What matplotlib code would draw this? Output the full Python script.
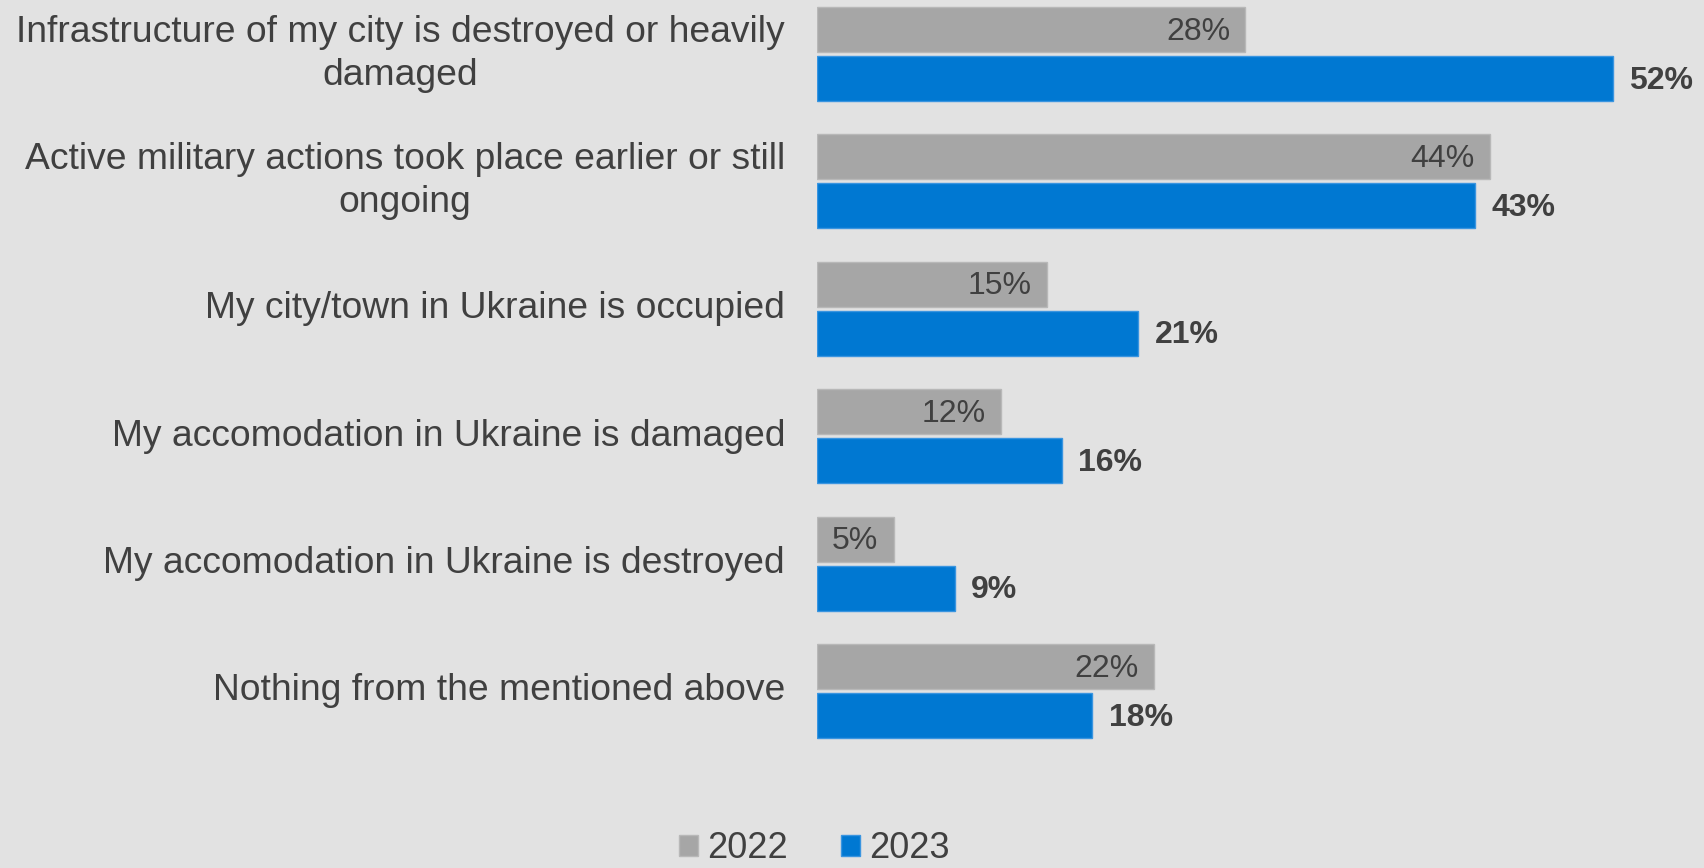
import matplotlib.pyplot as plt
import numpy as np

# data
categories = ['Infrastructure of my city is destroyed or heavily\ndamaged',
              'Active military actions took place earlier or still\nongoing',
              'My city/town in Ukraine is occupied',
              'My accomodation in Ukraine is damaged',
              'My accomodation in Ukraine is destroyed',
              'Nothing from the mentioned above']
values_2022 = [28, 44, 15, 12, 5, 22]
values_2023 = [52, 43, 21, 16, 9, 18]
years = ['2022', '2023']

bg = '#e2e2e2'
grey = '#a6a6a6'
blue = '#0078d2'
txt = '#404040'

plt.rcParams['font.family'] = ['Liberation Sans', 'DejaVu Sans']

fig = plt.figure(figsize=(17.04, 8.68), dpi=100, facecolor=bg)
ax = fig.add_axes([817 / 1704, 0, 887 / 1704, 1])
ax.set_facecolor(bg)

y = np.arange(len(categories))
h = 0.353
off = 0.192
b1 = ax.barh(y - off, values_2022, height=h, color=grey, edgecolor='#b8b8b8', linewidth=1, label=years[0])
b2 = ax.barh(y + off, values_2023, height=h, color=blue, edgecolor='#3a95e0', linewidth=1, label=years[1])

# value labels: grey inside the bar, blue bold outside
for rect, v in zip(b1, values_2022):
    ax.annotate(f'{v}%', (rect.get_width(), rect.get_y() + rect.get_height() / 2),
                xytext=(-11, -1.5), textcoords='offset points', ha='right', va='center',
                fontsize=23, color=txt)
for rect, v in zip(b2, values_2023):
    ax.annotate(f'{v}%', (rect.get_width(), rect.get_y() + rect.get_height() / 2),
                xytext=(12, -1.5), textcoords='offset points', ha='left', va='center',
                fontsize=23, color=txt, fontweight='bold')

# category labels on the left
for yi, cat in zip(y, categories):
    ax.text(-32 / 887, yi, cat, transform=ax.get_yaxis_transform(), ha='right', va='center',
            multialignment='center', fontsize=26.8, color=txt, linespacing=1.3)

ax.set_xlim(0, 887 / 15.3)
ax.set_ylim((868 - 54) / 127.4, -54 / 127.4)
ax.set_xticks([])
ax.set_yticks([])
for s in ax.spines.values():
    s.set_visible(False)

# legend at the bottom, no frame
fig.legend(handles=[b1, b2], labels=years, loc='center', bbox_to_anchor=(814.5 / 1704, 1 - 849 / 868),
           ncol=2, frameon=False, fontsize=26, labelcolor=txt, handlelength=0.53, handleheight=0.53,
           handletextpad=0.25, columnspacing=1.47, borderpad=0, borderaxespad=0)

plt.savefig('out.png', dpi=100, facecolor=bg)
